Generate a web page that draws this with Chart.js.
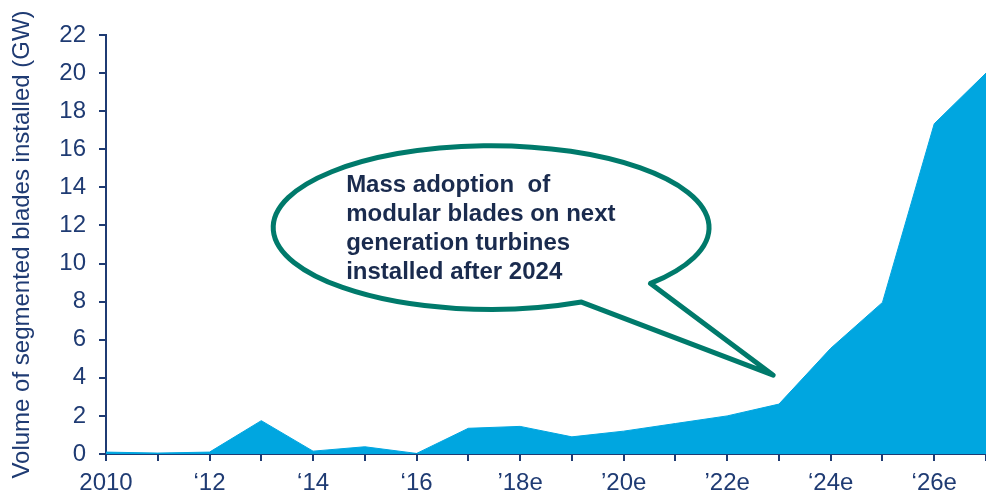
<!DOCTYPE html>
<html>
<head>
<meta charset="utf-8">
<script src="https://cdn.jsdelivr.net/npm/chart.js@4.4.1/dist/chart.umd.min.js"></script>
<style>
  html, body { margin: 0; padding: 0; background: #fff; }
  #wrap { width: 986px; height: 502px; position: relative; }
</style>
</head>
<body>
<div id="wrap"><canvas id="c"></canvas></div>
<script>
/* Segmented blade installations — area chart with callout. */
const YEARS = ["2010", "2011", "2012", "2013", "2014", "2015", "2016", "2017", "2018",
  "2019", "2020", "2021", "2022", "2023", "2024", "2025", "2026", "2027"];
const TICK_LABELS = ["2010", "", "\u201812", "", "\u201814", "", "\u201816", "", "\u201918e",
  "", "\u201920e", "", "\u201922e", "", "\u201824e", "", "\u201826e", ""];
const GW_INSTALLED = [0.1, 0.05, 0.1, 1.75, 0.15, 0.38, 0.03, 1.35, 1.45,
  0.9, 1.2, 1.6, 2.0, 2.62, 5.55, 7.96, 17.34, 20.0];
const Y_TITLE = "Volume of segmented blades installed (GW)";
const CALLOUT_LINES = ["Mass adoption  of", "modular blades on next",
  "generation turbines", "installed after 2024"];

const AXIS = "#1F3B73";
const FILL = "#00A6E0";
const TEAL = "#007A6B";
const FONT = "Arial, 'Liberation Sans', sans-serif";

// callout drawn in data units so it follows the scales
const callout = {
  id: "callout",
  afterDatasetsDraw(chart) {
    const { ctx, scales: { x, y } } = chart;
    const cx = x.getPixelForValue(7.44), cy = y.getPixelForValue(11.89);
    const rx = x.getPixelForValue(7.44 + 4.21) - cx;
    const ry = cy - y.getPixelForValue(11.89 + 4.3);
    const tipX = x.getPixelForValue(12.89), tipY = y.getPixelForValue(4.14);
    const a1 = 43 * Math.PI / 180, a2 = 65.5 * Math.PI / 180;
    ctx.save();
    ctx.beginPath();
    ctx.ellipse(cx, cy, rx, ry, 0, a1, a2, true);
    ctx.lineTo(tipX, tipY);
    ctx.closePath();
    ctx.fillStyle = "#fff";
    ctx.fill();
    ctx.lineWidth = 5;
    ctx.lineJoin = "round";
    ctx.strokeStyle = TEAL;
    ctx.stroke();

    ctx.fillStyle = "#1A2B4E";
    ctx.font = `bold 24px ${FONT}`;
    ctx.textAlign = "left";
    ctx.textBaseline = "alphabetic";
    CALLOUT_LINES.forEach((t, i) => ctx.fillText(t, cx - 145, cy - 36 + i * 29));
    ctx.restore();
  },
};

new Chart(document.getElementById("c"), {
  type: "line",
  data: {
    labels: YEARS,
    datasets: [{
      data: GW_INSTALLED,
      fill: "origin",
      backgroundColor: FILL,
      borderColor: FILL,
      borderWidth: 1,
      tension: 0,
      pointRadius: 0,
    }],
  },
  options: {
    responsive: true, maintainAspectRatio: false, animation: false,
    layout: { padding: { top: 35, right: 0, left: 0, bottom: 0 } },
    plugins: { legend: { display: false }, tooltip: { enabled: false } },
    scales: {
      x: {
        offset: false,
        grid: { drawOnChartArea: false, color: AXIS, lineWidth: 2, tickLength: 7 },
        border: { color: AXIS, width: 2 },
        ticks: {
          autoSkip: false, maxRotation: 0, padding: 0, color: AXIS,
          // taller line box pushes labels down without adding right padding
          font: { family: FONT, size: 24, lineHeight: 1.87 },
          callback: (v, i) => TICK_LABELS[i],
        },
        afterFit: (s) => { s.height = 48; },
      },
      y: {
        min: 0, max: 22,
        grid: { drawOnChartArea: false, color: AXIS, lineWidth: 2, tickLength: 7 },
        border: { color: AXIS, width: 2 },
        ticks: { stepSize: 2, padding: 13, color: AXIS, font: { family: FONT, size: 24 } },
        title: {
          display: true, text: Y_TITLE, color: AXIS,
          font: { family: FONT, size: 24 }, padding: { top: 8, bottom: 0 },
        },
        afterFit: (s) => { s.width = 106; },
      },
    },
  },
  plugins: [callout],
});
</script>
</body>
</html>
